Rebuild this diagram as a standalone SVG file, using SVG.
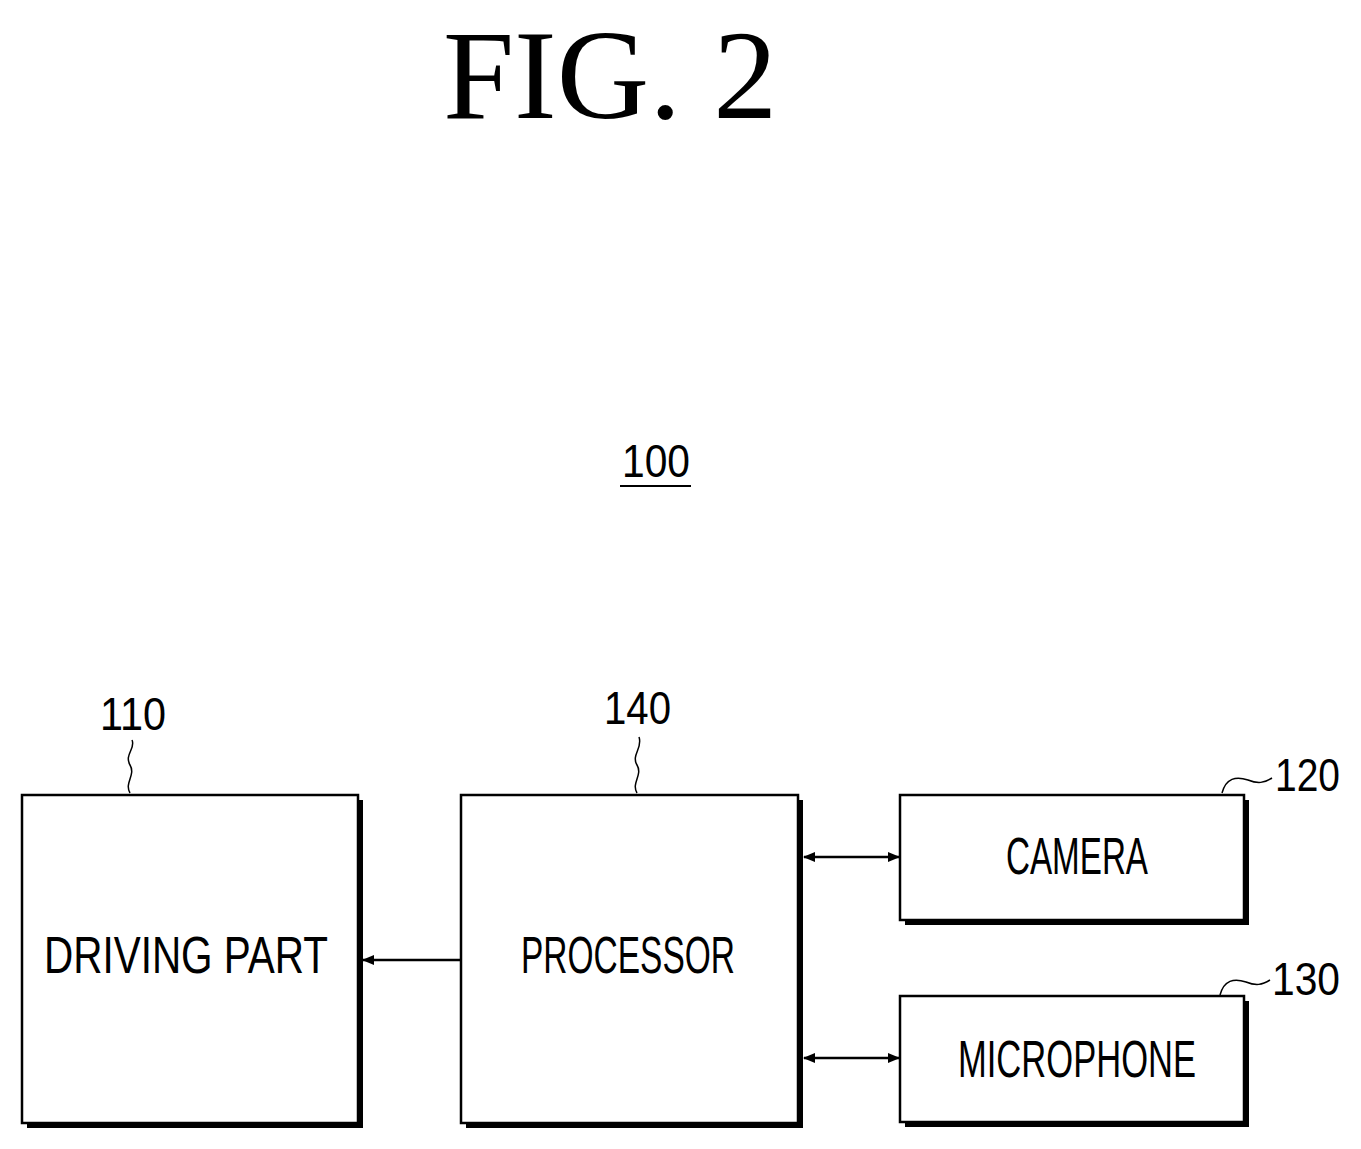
<svg xmlns="http://www.w3.org/2000/svg" width="1361" height="1149" viewBox="0 0 1361 1149">
<defs>
<style>
.box{fill:#fff;stroke:#000;stroke-width:2.5}
.sh{fill:#000}
.t{font-family:"Liberation Sans",Arial,sans-serif;font-size:52px;fill:#000}
.n{font-family:"Liberation Sans",Arial,sans-serif;font-size:46px;fill:#000}
.ld{fill:none;stroke:#000;stroke-width:1.5}
.c{stroke:#000;stroke-width:2.5;fill:none}
</style>
<marker id="ah" markerWidth="12" markerHeight="10" refX="11" refY="5" orient="auto-start-reverse" markerUnits="userSpaceOnUse" viewBox="0 0 12 10"><path d="M0,0 L12,5 L0,10 z" fill="#000"/></marker>
</defs>
<rect width="1361" height="1149" fill="#fff"/>
<text x="610" y="118" text-anchor="middle" font-family="Liberation Serif,serif" font-size="128">FIG. 2</text>
<g id="label100"><text class="n" x="622" y="477" textLength="68" lengthAdjust="spacingAndGlyphs">100</text><line x1="620" y1="486" x2="691" y2="486" stroke="#000" stroke-width="2"/></g>
<g id="n110">
<rect class="sh" x="27" y="800" width="336" height="328"/>
<rect class="box" x="22" y="795" width="336" height="328"/>
<text class="t" x="44" y="973" textLength="284" lengthAdjust="spacingAndGlyphs">DRIVING PART</text>
<text class="n" x="100" y="730" textLength="66" lengthAdjust="spacingAndGlyphs">110</text>
<path class="ld" d="M130,793 C124,783 136,775 130,765 C124,755 136,748 132,740"/>
</g>
<g id="n140">
<rect class="sh" x="466" y="800" width="337" height="328"/>
<rect class="box" x="461" y="795" width="337" height="328"/>
<text class="t" x="521" y="973" textLength="214" lengthAdjust="spacingAndGlyphs">PROCESSOR</text>
<text class="n" x="604" y="724" textLength="67" lengthAdjust="spacingAndGlyphs">140</text>
<path class="ld" d="M637,793 C631,783 643,775 637,765 C631,755 643,748 639,737"/>
</g>
<g id="n120">
<rect class="sh" x="905" y="800" width="344" height="125"/>
<rect class="box" x="900" y="795" width="344" height="125"/>
<text class="t" x="1006" y="874" textLength="142" lengthAdjust="spacingAndGlyphs">CAMERA</text>
<text class="n" x="1275" y="791" textLength="65" lengthAdjust="spacingAndGlyphs">120</text>
<path class="ld" d="M1222,793 C1226,778 1236,776 1248,780 C1258,784 1264,783 1272,778"/>
</g>
<g id="n130">
<rect class="sh" x="905" y="1001" width="344" height="126"/>
<rect class="box" x="900" y="996" width="344" height="126"/>
<text class="t" x="958" y="1077" textLength="238" lengthAdjust="spacingAndGlyphs">MICROPHONE</text>
<text class="n" x="1272" y="995" textLength="68" lengthAdjust="spacingAndGlyphs">130</text>
<path class="ld" d="M1220,995 C1224,980 1234,978 1246,982 C1256,986 1262,985 1270,980"/>
</g>
<g id="connectors">
<line class="c" x1="461" y1="960" x2="363" y2="960" marker-end="url(#ah)"/>
<line class="c" x1="804" y1="857" x2="899" y2="857" marker-start="url(#ah)" marker-end="url(#ah)"/>
<line class="c" x1="804" y1="1058" x2="899" y2="1058" marker-start="url(#ah)" marker-end="url(#ah)"/>
</g>
</svg>
